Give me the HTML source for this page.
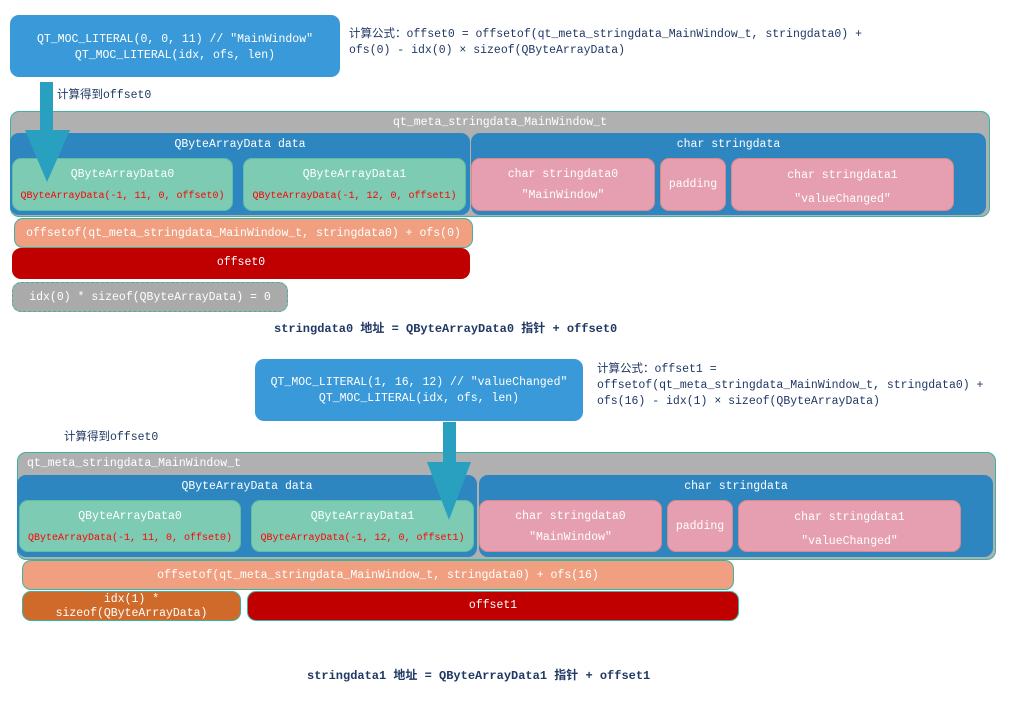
<!DOCTYPE html><html><head><meta charset="utf-8"><style>
body{margin:0;width:1025px;height:701px;background:#fff;position:relative;overflow:hidden;font-family:"Liberation Mono","Noto Sans CJK SC",monospace;font-size:11.5px}
.b{position:absolute;box-sizing:border-box;color:#fff;text-align:center;border-radius:9px;white-space:nowrap}
.gr{background:#b0b0b0;border:1px solid #3bb3a0}
.bl{background:#2e86c1}
.gn{background:#7dcbb3;border:1px solid #5cbfa6}
.pk{background:#e59fb0;border:1px solid #d88}
.r{color:#f00;font-size:10px;white-space:nowrap}
.t{position:absolute;color:#1f3864;white-space:nowrap}
.c{position:absolute;font-weight:bold;color:#1f3864;white-space:nowrap;font-size:12px}
</style></head><body>
<div class="b" style="left:10px;top:15px;width:330px;height:62px;background:#3a9ad9;padding-top:17px;line-height:16px">QT_MOC_LITERAL(0, 0, 11) // "MainWindow"<br>QT_MOC_LITERAL(idx, ofs, len)</div>
<div class="t" style="left:349px;top:27px;line-height:16px">计算公式：offset0 = offsetof(qt_meta_stringdata_MainWindow_t, stringdata0) +<br>ofs(0) -  idx(0) × sizeof(QByteArrayData)</div>
<div class="t" style="left:57px;top:86px">计算得到offset0</div>

<div class="b gr" style="left:10px;top:111px;width:980px;height:106px;padding-top:4px">qt_meta_stringdata_MainWindow_t</div>
<div class="b bl" style="left:10px;top:133px;width:460px;height:82px;padding-top:5px">QByteArrayData data</div>
<div class="b gn" style="left:12px;top:158px;width:221px;height:53px;padding-top:5px;line-height:21px">QByteArrayData0<br><span class="r">QByteArrayData(-1, 11, 0, offset0)</span></div>
<div class="b gn" style="left:243px;top:158px;width:223px;height:53px;padding-top:5px;line-height:21px">QByteArrayData1<br><span class="r">QByteArrayData(-1, 12, 0, offset1)</span></div>
<div class="b bl" style="left:471px;top:133px;width:515px;height:82px;padding-top:5px">char stringdata</div>
<div class="b pk" style="left:471px;top:158px;width:184px;height:53px;padding-top:5px;line-height:21px">char stringdata0<br>"MainWindow"</div>
<div class="b pk" style="left:660px;top:158px;width:66px;height:53px;padding-top:19px">padding</div>
<div class="b pk" style="left:731px;top:158px;width:223px;height:53px;padding-top:5px;line-height:24px">char stringdata1<br>"valueChanged"</div>
<div class="b" style="left:14px;top:218px;width:459px;height:30px;background:#f0a080;border:1px solid #3bb3a0;padding-top:8px">offsetof(qt_meta_stringdata_MainWindow_t, stringdata0) + ofs(0)</div>
<div class="b" style="left:12px;top:248px;width:458px;height:31px;background:#c00000;padding-top:8px">offset0</div>
<div class="b" style="left:12px;top:282px;width:276px;height:30px;background:#aaa;border:1px dashed #3bb3a0;padding-top:8px">idx(0) * sizeof(QByteArrayData) = 0</div>
<div class="c" style="left:274px;top:319px">stringdata0 地址 = QByteArrayData0 指针 + offset0</div>

<div class="b" style="left:255px;top:359px;width:328px;height:62px;background:#3a9ad9;padding-top:16px;line-height:16px">QT_MOC_LITERAL(1, 16, 12) // "valueChanged"<br>QT_MOC_LITERAL(idx, ofs, len)</div>
<div class="t" style="left:597px;top:362px;line-height:16px">计算公式：offset1 =<br>offsetof(qt_meta_stringdata_MainWindow_t, stringdata0) +<br>ofs(16) -  idx(1) × sizeof(QByteArrayData)</div>
<div class="t" style="left:64px;top:428px">计算得到offset0</div>

<div class="b gr" style="left:17px;top:452px;width:979px;height:108px;padding:4px 0 0 9px;text-align:left">qt_meta_stringdata_MainWindow_t</div>
<div class="b bl" style="left:17px;top:475px;width:460px;height:82px;padding-top:5px">QByteArrayData data</div>
<div class="b gn" style="left:19px;top:500px;width:222px;height:52px;padding-top:5px;line-height:21px">QByteArrayData0<br><span class="r">QByteArrayData(-1, 11, 0, offset0)</span></div>
<div class="b gn" style="left:251px;top:500px;width:223px;height:52px;padding-top:5px;line-height:21px">QByteArrayData1<br><span class="r">QByteArrayData(-1, 12, 0, offset1)</span></div>
<div class="b bl" style="left:479px;top:475px;width:514px;height:82px;padding-top:5px">char stringdata</div>
<div class="b pk" style="left:479px;top:500px;width:183px;height:52px;padding-top:5px;line-height:21px">char stringdata0<br>"MainWindow"</div>
<div class="b pk" style="left:667px;top:500px;width:66px;height:52px;padding-top:19px">padding</div>
<div class="b pk" style="left:738px;top:500px;width:223px;height:52px;padding-top:5px;line-height:24px">char stringdata1<br>"valueChanged"</div>
<div class="b" style="left:22px;top:560px;width:712px;height:30px;background:#f0a080;border:1px solid #3bb3a0;padding-top:8px">offsetof(qt_meta_stringdata_MainWindow_t, stringdata0) + ofs(16)</div>
<div class="b" style="left:22px;top:591px;width:219px;height:30px;background:#d06a2a;border:1px solid #3bb3a0;padding-top:1px;line-height:14px">idx(1) *<br>sizeof(QByteArrayData)</div>
<div class="b" style="left:247px;top:591px;width:492px;height:30px;background:#c00000;border:1px solid #3bb3a0;padding-top:7px">offset1</div>
<div class="c" style="left:307px;top:666px">stringdata1 地址 = QByteArrayData1 指针 + offset1</div>

<svg style="position:absolute;left:0;top:0;z-index:5" width="1025" height="701">
<rect x="40" y="82" width="13" height="60" fill="#2aa0c0"/><polygon points="25,130 70,130 47,182" fill="#2aa0c0"/>
<rect x="443" y="422" width="13" height="50" fill="#2aa0c0"/><polygon points="427,462 471,462 449,520" fill="#2aa0c0"/>
</svg>
</body></html>
